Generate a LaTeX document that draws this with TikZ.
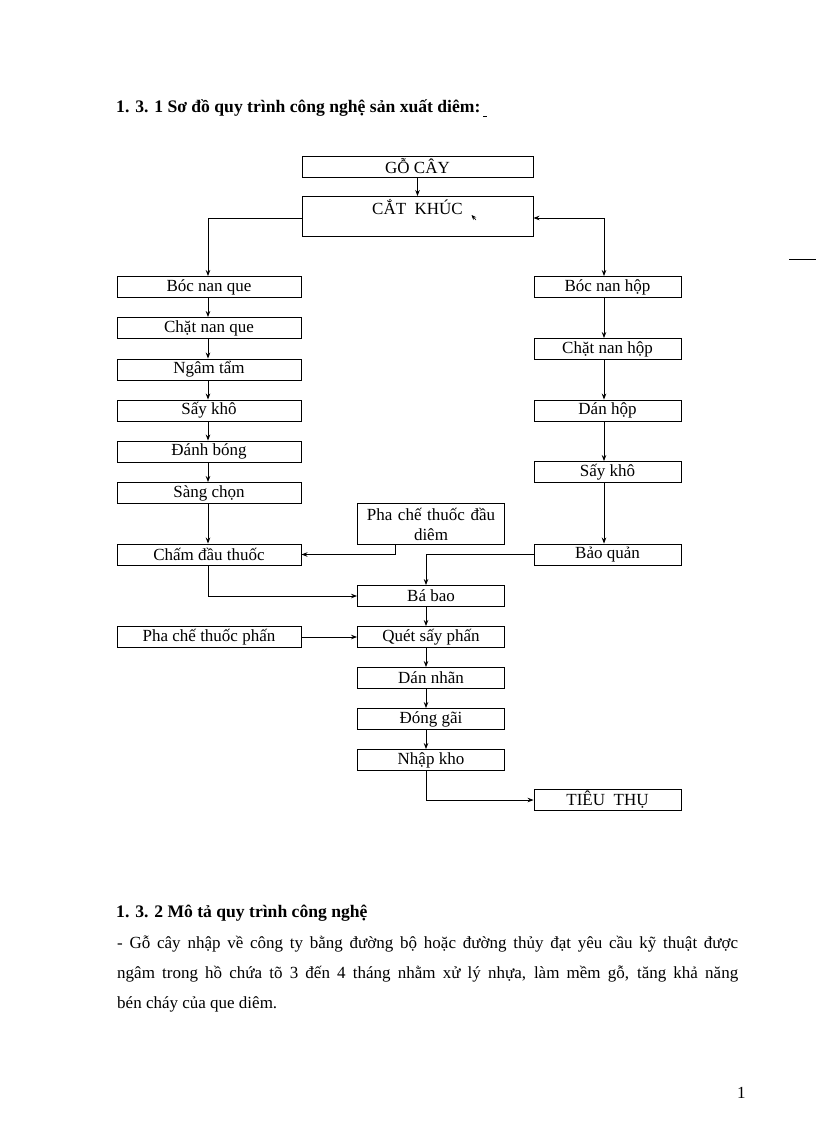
\documentclass[tikz,border=0pt]{standalone}
\usepackage{fontspec}
\setmainfont{Liberation Serif}
\usetikzlibrary{arrows.meta}
\begin{document}
\begin{tikzpicture}[x=1pt,y=-1pt,
  box/.style={draw,line width=0.9pt,inner sep=0pt,minimum height=21pt,font=\fontsize{17}{19}\selectfont},
  wl/.style={box,minimum width=184pt},
  wm/.style={box,minimum width=147pt},
  wt/.style={box,minimum width=231pt},
  arr/.style={line width=0.8pt,-{Stealth[length=6pt,width=4.5pt]}},
  darr/.style={line width=0.8pt,{Stealth[length=6pt,width=4.5pt]}-{Stealth[length=6pt,width=4.5pt]}},
  ln/.style={line width=0.8pt},
  txt/.style={anchor=base west,inner sep=0pt,font=\fontsize{17}{20}\selectfont},
  head/.style={anchor=base west,inner sep=0pt,font=\bfseries\fontsize{17.6}{20}\selectfont}]
\fill[white] (0,0) rectangle (816,1123);
\useasboundingbox (0,0) rectangle (816,1123);

% title
\node[head] (title) at (116,113) {1. 3. 1 Sơ đồ quy trình công nghệ sản xuất diêm:\,\rule[-4pt]{4pt}{0.8pt}};

% top boxes
\node[wt] (gc) at (417.5,166.5) {GỖ CÂY};
\node[wt,minimum height=40pt] (ck) at (417.5,216.5) {};
\node[anchor=north,inner sep=0pt,font=\fontsize{17}{19}\selectfont] (cktxt) at (417.5,199) {CẮT\ \ KHÚC};

% left column
\node[wl] (bnq) at (209,287) {Bóc nan que};
\node[wl] (cnq) at (209,328) {Chặt nan que};
\node[wl] (nt)  at (209,369.5) {Ngâm tẩm};
\node[wl] (sk)  at (209,410.5) {Sấy khô};
\node[wl] (db)  at (209,451.5) {Đánh bóng};
\node[wl] (sc)  at (209,493) {Sàng chọn};
\node[wl] (cdt) at (209,554.5) {Chấm đầu thuốc};
\node[wl] (pcp) at (209,637) {Pha chế thuốc phấn};

% right column
\node[wm] (bnh) at (607.5,287) {Bóc nan hộp};
\node[wm] (cnh) at (607.5,349) {Chặt nan hộp};
\node[wm] (dh)  at (607.5,410.5) {Dán hộp};
\node[wm] (skh) at (607.5,472) {Sấy khô};
\node[wm] (bq)  at (607.5,554.5) {Bảo quản};
\node[wm] (tt)  at (607.5,800) {TIÊU\ \ THỤ};

% middle column
\node[wm,minimum height=41pt,align=center,text width=140pt] (pcd) at (431,524) {Pha chế thuốc đầu\\[1pt]diêm};
\node[wm] (bb)  at (431,596) {Bá bao};
\node[wm] (qsp) at (431,637) {Quét sấy phấn};
\node[wm] (dn)  at (431,678) {Dán nhãn};
\node[wm] (dg)  at (431,719) {Đóng gãi};
\node[wm] (nk)  at (431,760) {Nhập kho};

% helper coordinates
\coordinate (XL) at (208,0);
\coordinate (XR) at (604,0);
\coordinate (XM) at (426,0);
\coordinate (XP) at (395,0);
\coordinate (Y1) at (0,218);

% connectors
\draw[arr] (gc) -- (ck);
\draw[arr] (ck.west |- Y1) -| (bnq.north -| XL);
\draw[darr] (ck.east |- Y1) -| (bnh.north -| XR);
\foreach \a/\b in {bnq/cnq,cnq/nt,nt/sk,sk/db,db/sc,sc/cdt}
  \draw[arr] (\a.south -| XL) -- (\b.north -| XL);
\foreach \a/\b in {bnh/cnh,cnh/dh,dh/skh,skh/bq}
  \draw[arr] (\a.south -| XR) -- (\b.north -| XR);
\foreach \a/\b in {bb/qsp,qsp/dn,dn/dg,dg/nk}
  \draw[arr] (\a.south -| XM) -- (\b.north -| XM);
\draw[arr] (pcd.south -| XP) |- (cdt.east);
\draw[arr] (cdt.south -| XL) |- (bb.west);
\draw[arr] (bq.west) -| (bb.north -| XM);
\draw[arr] (pcp) -- (qsp);
\draw[arr] (nk.south -| XM) |- (tt.west);

% stray marks
\draw[line width=0.6pt,-{Stealth[length=5pt,width=4pt]}] (476,220) -- (471.5,215);
\draw[ln] (789,259) -- (816,259);

% description
\node[head] (h2) at (116,917) {1. 3. 2 Mô tả quy trình công nghệ};
\node[txt] (l1) at (117,948) {\makebox[621pt][s]{- Gỗ cây nhập về công ty bằng đường bộ hoặc đường thủy đạt yêu cầu kỹ thuật được}};
\node[txt] (l2) at (117,978) {\makebox[621pt][s]{ngâm trong hồ chứa tõ 3 đến 4 tháng nhằm xử lý nhựa, làm mềm gỗ, tăng khả năng}};
\node[txt] (l3) at (117,1008) {bén cháy của que diêm.};
\node[txt] (pg) at (737,1098) {1};
\end{tikzpicture}
\end{document}
